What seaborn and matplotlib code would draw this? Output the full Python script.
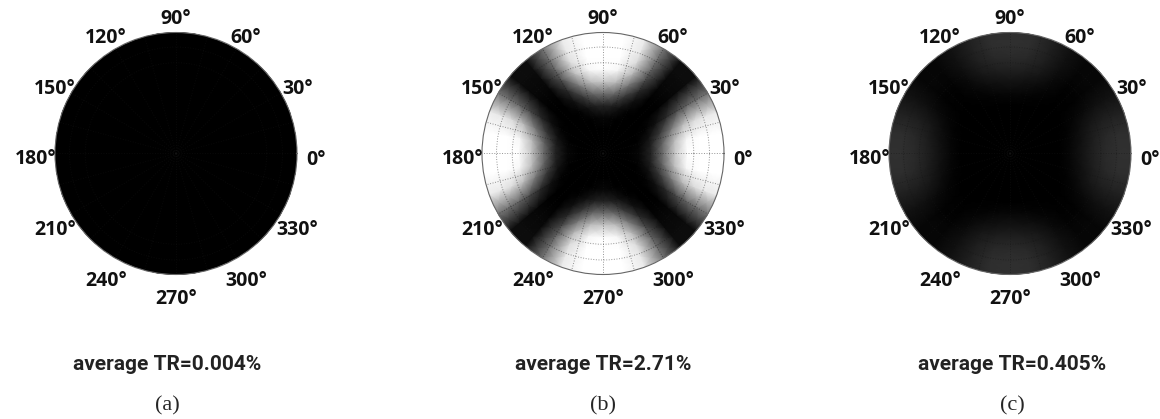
import numpy as np
import matplotlib
matplotlib.use("Agg")
import matplotlib.pyplot as plt
import seaborn as sns

sns.set_theme(style="white")
plt.rcParams["font.family"] = ["Open Sans", "DejaVu Sans"]

# --- data: transmittance (%), one quadrant (0..90 deg azimuth,
# 10 deg steps); the maps are mirror-symmetric about 0 and 90 deg
radius = [0.0, 0.2, 0.3, 0.4, 0.5, 0.6, 0.7, 0.8, 0.9, 1.0]
azimuth_quadrant = [0, 10, 20, 30, 40, 50, 60, 70, 80, 90]

tr_a = [
    [0.004, 0.004, 0.004, 0.004, 0.004, 0.004, 0.004, 0.004, 0.004, 0.004],
    [0.004, 0.004, 0.004, 0.004, 0.004, 0.004, 0.004, 0.004, 0.004, 0.004],
    [0.004, 0.004, 0.004, 0.004, 0.004, 0.004, 0.004, 0.004, 0.004, 0.004],
    [0.004, 0.004, 0.004, 0.004, 0.004, 0.004, 0.004, 0.004, 0.004, 0.004],
    [0.004, 0.004, 0.004, 0.004, 0.004, 0.004, 0.004, 0.004, 0.004, 0.004],
    [0.004, 0.004, 0.004, 0.004, 0.004, 0.004, 0.004, 0.004, 0.004, 0.004],
    [0.004, 0.004, 0.004, 0.004, 0.004, 0.004, 0.004, 0.004, 0.004, 0.004],
    [0.004, 0.004, 0.004, 0.004, 0.004, 0.004, 0.004, 0.004, 0.004, 0.004],
    [0.004, 0.004, 0.004, 0.004, 0.004, 0.004, 0.004, 0.004, 0.004, 0.004],
    [0.004, 0.004, 0.004, 0.004, 0.004, 0.004, 0.004, 0.004, 0.004, 0.004],
]
tr_b = [
    [0.0, 0.0, 0.24, 1.2, 3.6, 6.4, 8.0, 8.6, 8.8, 8.8],
    [0.0, 0.0, 0.16, 1.0, 3.2, 5.9, 7.7, 8.4, 8.6, 8.6],
    [0.0, 0.0, 0.04, 0.5, 1.8, 3.8, 5.8, 6.9, 7.3, 7.4],
    [0.0, 0.0, 0.0, 0.08, 0.5, 1.3, 2.3, 3.1, 3.5, 3.6],
    [0.0, 0.0, 0.0, 0.0, 0.0, 0.08, 0.2, 0.3, 0.4, 0.4],
    [0.0, 0.0, 0.0, 0.0, 0.0, 0.08, 0.2, 0.3, 0.4, 0.4],
    [0.0, 0.0, 0.0, 0.08, 0.5, 1.3, 2.3, 3.1, 3.5, 3.6],
    [0.0, 0.0, 0.04, 0.5, 1.8, 3.8, 5.8, 6.9, 7.3, 7.4],
    [0.0, 0.0, 0.16, 1.0, 3.2, 5.9, 7.7, 8.4, 8.6, 8.6],
    [0.0, 0.0, 0.24, 1.2, 3.6, 6.4, 8.0, 8.6, 8.8, 8.8],
]
tr_c = [
    [0.0, 0.0, 0.0, 0.0, 0.24, 0.64, 1.04, 1.36, 1.52, 1.52],
    [0.0, 0.0, 0.0, 0.0, 0.20, 0.56, 0.96, 1.28, 1.44, 1.44],
    [0.0, 0.0, 0.0, 0.0, 0.12, 0.40, 0.72, 0.96, 1.04, 1.04],
    [0.0, 0.0, 0.0, 0.0, 0.04, 0.16, 0.32, 0.48, 0.56, 0.56],
    [0.0, 0.0, 0.0, 0.0, 0.0, 0.04, 0.08, 0.16, 0.20, 0.20],
    [0.0, 0.0, 0.0, 0.0, 0.0, 0.04, 0.08, 0.16, 0.20, 0.20],
    [0.0, 0.0, 0.0, 0.0, 0.04, 0.16, 0.32, 0.48, 0.56, 0.56],
    [0.0, 0.0, 0.0, 0.0, 0.12, 0.40, 0.72, 0.96, 1.04, 1.04],
    [0.0, 0.0, 0.0, 0.0, 0.20, 0.56, 0.96, 1.28, 1.44, 1.44],
    [0.0, 0.0, 0.0, 0.0, 0.24, 0.64, 1.04, 1.36, 1.52, 1.52],
]

captions = ["average TR=0.004%", "average TR=2.71%", "average TR=0.405%"]
panel_tags = ["(a)", "(b)", "(c)"]
angle_labels = [0, 30, 60, 90, 120, 150, 180, 210, 240, 270, 300, 330]


def full_circle(q):
    # mirror the quadrant to get 0..360 deg
    q = np.asarray(q, dtype=float)
    return np.vstack([q, q[-2::-1], q[1:], q[-2::-1]])


aq = np.array(azimuth_quadrant)
az_full = np.concatenate([aq, 180 - aq[-2::-1], 180 + aq[1:], 360 - aq[-2::-1]])
# one extra ring just outside the rim so the circle clip leaves no gaps
r_ext = np.append(radius, 1.06)

fig = plt.figure(figsize=(11.6, 4.19), dpi=100)
centers = [176, 603, 1010]
text_x = [167, 603, 1012]
R = 121

for i, data in enumerate([tr_a, tr_b, tr_c]):
    ax = fig.add_axes([(centers[i] - R) / 1160, (419 - 153.5 - R) / 419,
                       2 * R / 1160, 2 * R / 419], projection="polar")
    C = full_circle(data)
    C = np.hstack([C, C[:, -1:]])
    T, Rg = np.meshgrid(np.deg2rad(az_full), r_ext, indexing="ij")
    ax.pcolormesh(T, Rg, C, shading="gouraud", cmap="gray", vmin=0, vmax=8,
                  zorder=0)
    ax.set_ylim(0, 1)
    ax.set_xticks(np.deg2rad(np.arange(0, 360, 15)))
    ax.set_xticklabels([])
    ax.set_yticks([0.75, 0.88])
    ax.set_yticklabels([])
    ax.set_axisbelow(False)
    # dark, half transparent dotted grid: shows on the bright lobes only
    ax.grid(True, color="#151515", ls=":", lw=0.7, alpha=0.45)
    ax.spines["polar"].set_color("#666666")
    ax.spines["polar"].set_linewidth(0.8)
    for a in angle_labels:
        t = np.deg2rad(a)
        ax.text(0.5 + 140 / 242 * np.cos(t), 0.5 + (140 * np.sin(t) - 6) / 242,
                f"{a}°", transform=ax.transAxes, ha="center", va="center",
                fontsize=14, fontweight="bold", color="#111111", clip_on=False)

    fig.text(text_x[i] / 1160, 1 - 364 / 419, captions[i], ha="center",
             va="center", fontsize=15, fontweight="bold", color="#222222",
             family=["Roboto", "DejaVu Sans"])
    fig.text(text_x[i] / 1160, 1 - 406 / 419, panel_tags[i], ha="center",
             va="center", fontsize=16, family=["Liberation Serif", "DejaVu Serif"])

fig.savefig("out.png", dpi=100, facecolor="white")
